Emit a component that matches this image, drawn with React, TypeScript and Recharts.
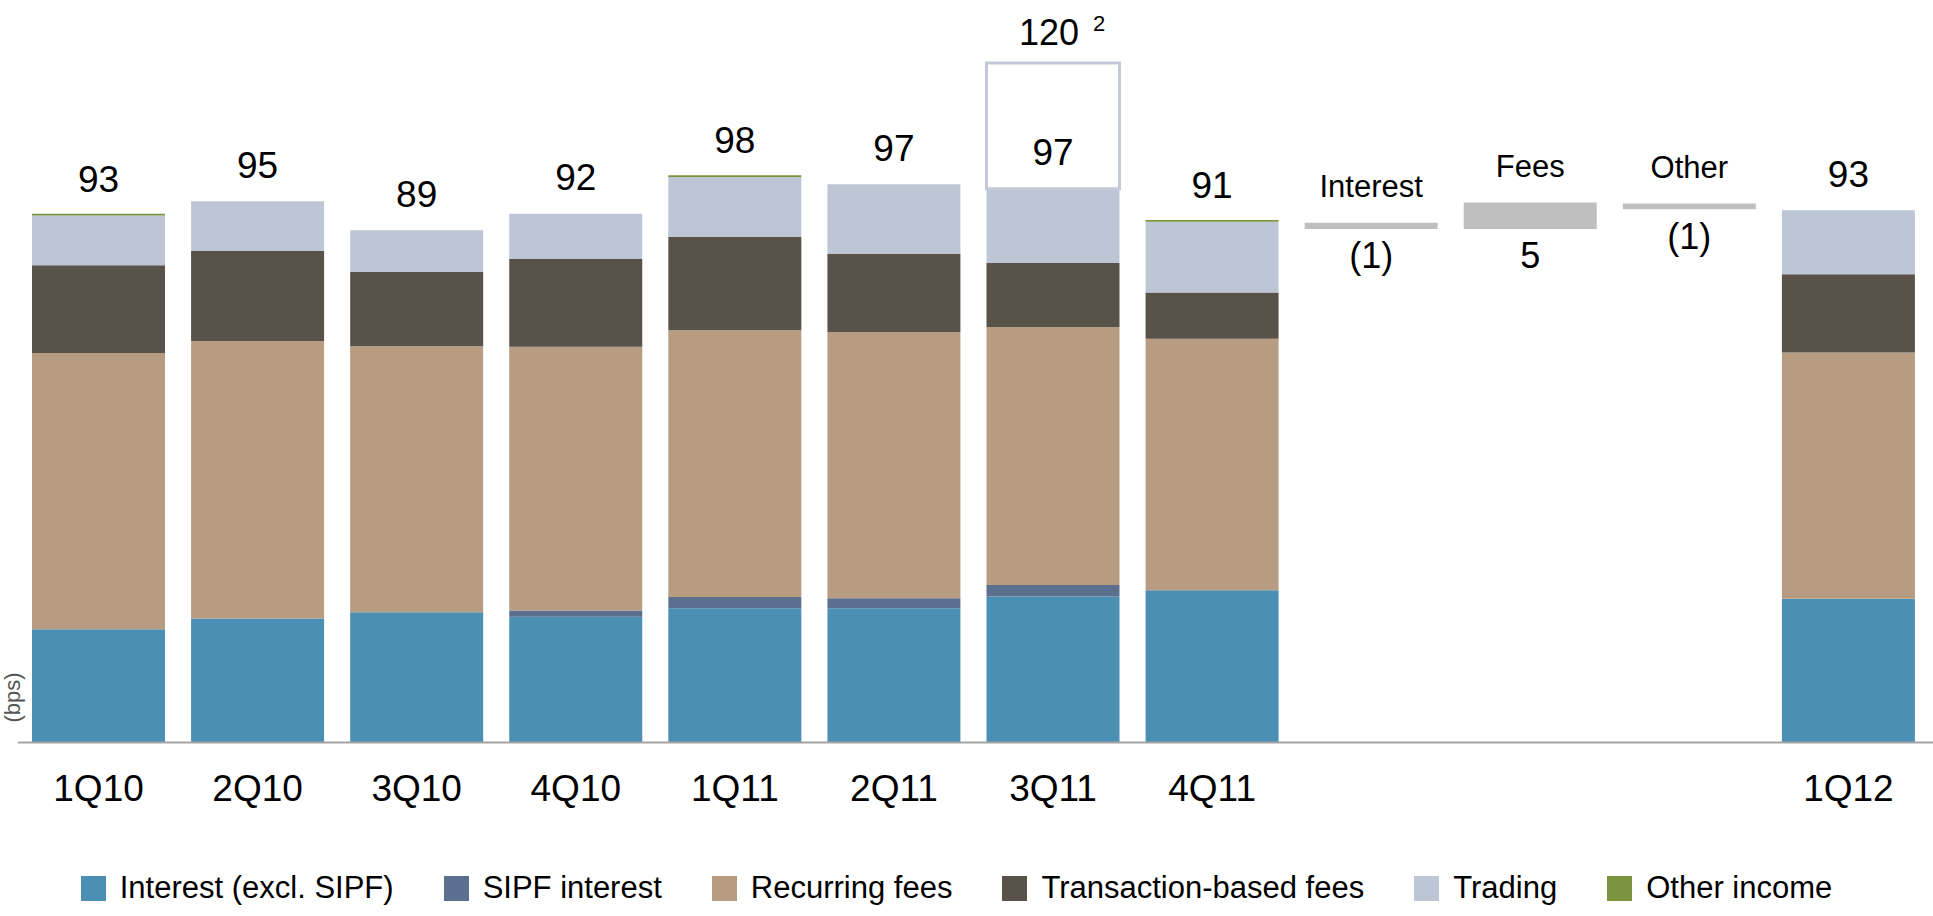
import React from "react";
import { Bar, BarChart, LabelList, Legend, XAxis, YAxis } from "recharts";

const FONT = "'Liberation Sans', Arial, Helvetica, sans-serif";

// categories and axis labels (the three bridge steps have no axis label)
const categories = ["1Q10", "2Q10", "3Q10", "4Q10", "1Q11", "2Q11", "3Q11", "4Q11", "Interest", "Fees", "Other", "1Q12"];
const tickLabels = ["1Q10", "2Q10", "3Q10", "4Q10", "1Q11", "2Q11", "3Q11", "4Q11", "", "", "", "1Q12"];

// revenue margin components, bps
const interestExSipf = [20.0, 21.9, 23.0, 22.2, 23.7, 23.7, 25.8, 26.9, 0, 0, 0, 25.4];
const sipfInterest = [0, 0, 0, 1.1, 2.0, 1.8, 2.0, 0, 0, 0, 0, 0];
const recurringFees = [48.8, 49.0, 47.0, 46.6, 47.1, 47.0, 45.6, 44.4, 0, 0, 0, 43.5];
const transactionFees = [15.5, 15.9, 13.1, 15.5, 16.5, 13.8, 11.3, 8.2, 0, 0, 0, 13.8];
const trading = [8.8, 8.8, 7.4, 8.0, 10.6, 12.3, 13.1, 12.5, 0, 0, 0, 11.3];
const otherIncome = [0.3, 0, 0, 0, 0.3, 0, 0, 0.3, 0, 0, 0, 0];
const totalLabels = ["93", "95", "89", "92", "98", "97", "97", "91", "", "", "", "93"];

// 3Q11 incl. the one-off item
const peakExtra = [0, 0, 0, 0, 0, 0, 22.2, 0, 0, 0, 0, 0];
const peakLabels = ["", "", "", "", "", "", "120", "", "", "", "", ""];
const peakNote = "2";

// bridge 4Q11 -> 1Q12
const bridgeBase = [0, 0, 0, 0, 0, 0, 0, 0, 90.7, 90.7, 94.2, 0];
const bridgeChange = [0, 0, 0, 0, 0, 0, 0, 0, 1.1, 4.7, 1.0, 0];
const bridgeNames = ["", "", "", "", "", "", "", "", "Interest", "Fees", "Other", ""];
const bridgeValues = ["", "", "", "", "", "", "", "", "(1)", "5", "(1)", ""];

const series = [
  { key: "interest", name: "Interest (excl. SIPF)", color: "#4c8fb4", values: interestExSipf },
  { key: "sipf", name: "SIPF interest", color: "#5b6f8e", values: sipfInterest },
  { key: "recurring", name: "Recurring fees", color: "#b89c81", values: recurringFees },
  { key: "transaction", name: "Transaction-based fees", color: "#595249", values: transactionFees },
  { key: "trading", name: "Trading", color: "#bdc6d5", values: trading },
  { key: "other", name: "Other income", color: "#7a9440", values: otherIncome }
];

const rows = categories.map((category, i) => {
  const row: Record<string, string | number> = {
    category,
    base: bridgeBase[i],
    change: bridgeChange[i],
    extra: peakExtra[i],
    totalLabel: totalLabels[i],
    peakLabel: peakLabels[i],
    bridgeName: bridgeNames[i],
    bridgeValue: bridgeValues[i]
  };
  series.forEach((s) => (row[s.key] = s.values[i]));
  return row;
});

// totals hang off the trading segment (always present in a quarter bar)
const renderTotal = (props: any) => {
  const { x, y, width, value } = props;
  if (!value) return null;
  return (
    <text x={x + width / 2} y={y - 36} textAnchor="middle" dominantBaseline="central" fontSize={37} fontFamily={FONT} fill="#000">
      {value}
    </text>
  );
};

const renderPeak = (props: any) => {
  const { x, y, width, value } = props;
  if (!value) return null;
  const cx = x + width / 2;
  return (
    <g>
      <text x={cx - 4} y={y - 31} textAnchor="middle" dominantBaseline="central" fontSize={36} fontFamily={FONT} fill="#000">
        {value}
      </text>
      <text x={cx + 46} y={y - 40} textAnchor="middle" dominantBaseline="central" fontSize={22} fontFamily={FONT} fill="#000">
        {peakNote}
      </text>
    </g>
  );
};

const renderBridgeName = (props: any) => {
  const { x, y, width, value } = props;
  if (!value) return null;
  return (
    <text x={x + width / 2} y={y - 36} textAnchor="middle" dominantBaseline="central" fontSize={31} fontFamily={FONT} fill="#000">
      {value}
    </text>
  );
};

const renderBridgeValue = (props: any) => {
  const { x, y, width, height, value } = props;
  if (!value) return null;
  return (
    <text x={x + width / 2} y={y + height + 27} textAnchor="middle" dominantBaseline="central" fontSize={36} fontFamily={FONT} fill="#000">
      {value}
    </text>
  );
};

const renderUnit = (props: any) => {
  const vb = props.viewBox || { x: 0, y: 0, width: 18, height: 736 };
  const cx = vb.x + 12;
  const cy = vb.y + vb.height - 45;
  return (
    <text x={cx} y={cy} transform={`rotate(-90, ${cx}, ${cy})`} textAnchor="middle" dominantBaseline="central" fontSize={22} fontFamily={FONT} fill="#555">
      (bps)
    </text>
  );
};

const renderLegend = () => (
  <div style={{ display: "flex", justifyContent: "center", alignItems: "center", gap: 50, height: 40, fontFamily: FONT, fontSize: 31, color: "#000" }}>
    {series.map((s) => (
      <div key={s.key} style={{ display: "flex", alignItems: "center", gap: 14, whiteSpace: "nowrap" }}>
        <span style={{ display: "inline-block", width: 25, height: 25, background: s.color }} />
        <span>{s.name}</span>
      </div>
    ))}
  </div>
);

export default function App() {
  return (
    <div style={{ position: "absolute", left: 0, top: 0, width: 1933, height: 916, background: "#fff" }}>
      <BarChart width={1933} height={916} data={rows} margin={{ top: 6.5, right: 0, bottom: 113.5, left: 0 }} barSize={133}>
        <XAxis
          dataKey="category"
          height={60}
          interval={0}
          padding={{ left: 1, right: 5 }}
          tickLine={false}
          tickSize={0}
          tickMargin={32}
          axisLine={{ stroke: "#a3a3a3", strokeWidth: 2 }}
          tick={{ fill: "#000", fontSize: 37, fontFamily: FONT }}
          tickFormatter={(v: string) => tickLabels[categories.indexOf(v)]}
        />
        <YAxis domain={[0, 130]} allowDataOverflow width={18} tick={false} tickLine={false} axisLine={false} label={{ content: renderUnit }} />
        <Legend verticalAlign="middle" align="center" layout="horizontal" wrapperStyle={{ top: 868, left: -10, width: 1933, height: 40 }} content={renderLegend} />
        <Bar dataKey="base" stackId="s" fill="transparent" legendType="none" isAnimationActive={false} />
        {series.map((s) => (
          <Bar key={s.key} dataKey={s.key} name={s.name} stackId="s" fill={s.color} isAnimationActive={false}>
            {s.key === "trading" ? <LabelList dataKey="totalLabel" content={renderTotal} /> : null}
          </Bar>
        ))}
        <Bar dataKey="extra" stackId="s" fill="#ffffff" stroke="#c2cad7" strokeWidth={3} legendType="none" isAnimationActive={false}>
          <LabelList dataKey="peakLabel" content={renderPeak} />
        </Bar>
        <Bar dataKey="change" stackId="s" fill="#bfbfbf" legendType="none" isAnimationActive={false}>
          <LabelList dataKey="bridgeName" content={renderBridgeName} />
          <LabelList dataKey="bridgeValue" content={renderBridgeValue} />
        </Bar>
      </BarChart>
    </div>
  );
}
